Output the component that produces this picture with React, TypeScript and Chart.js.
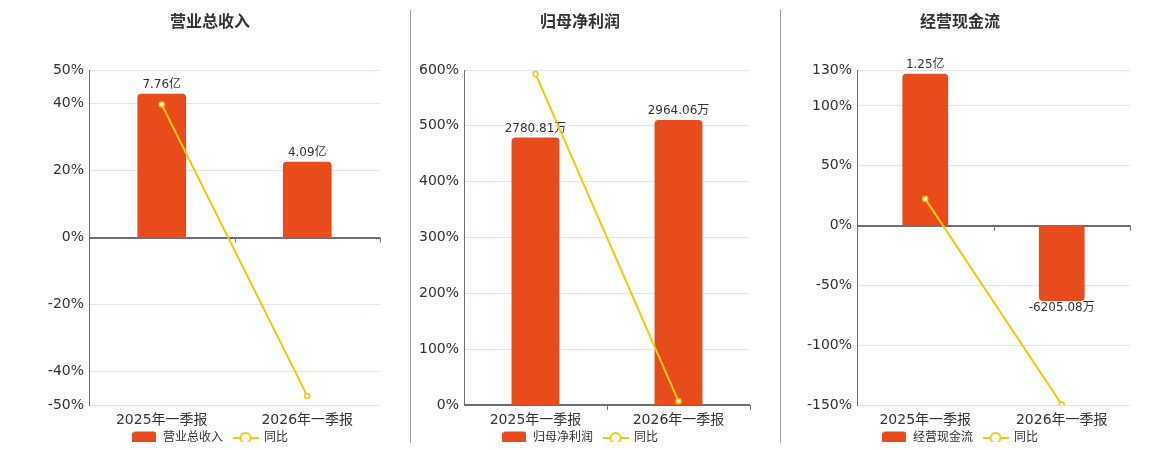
import React, { useEffect, useRef } from 'react';
import { Chart, registerables } from 'chart.js';

Chart.register(...registerables);

// ---------- data ----------
const categories = ['2025年一季报', '2026年一季报'];
const yoyLabel = '同比';

const revenueTitle = '营业总收入';
const revenueValues = [77600, 40900]; // 万元
const revenueYoy = [39.7, -47.29]; // %
const revenueTicks = [-50, -40, -20, 0, 20, 40, 50];
const revenueBarRange = [-90400, 90400];

const profitTitle = '归母净利润';
const profitValues = [2780.81, 2964.06]; // 万元
const profitYoy = [593, 6.59]; // %
const profitTicks = [0, 100, 200, 300, 400, 500, 600];
const profitBarRange = [0, 3483];

const cashTitle = '经营现金流';
const cashValues = [12500, -6205.08]; // 万元
const cashYoy = [22.3, -149.6]; // %
const cashTicks = [-150, -100, -50, 0, 50, 100, 130];
const cashBarRange = [-14775, 12805];

// ---------- styles ----------
const BAR = '#E84C1D';
const LINE = '#F4C80F';
const GRID = '#E0E6F1';
const AXIS = '#6E7079';
const TEXT = '#333333';
const FONT = '"DejaVu Sans", "Noto Sans CJK SC", sans-serif';

const fmtAmount = (v: number) =>
  Math.abs(v) >= 10000 ? (v / 10000).toFixed(2) + '亿' : v.toFixed(2) + '万';

function barIcon() {
  const c = document.createElement('canvas');
  c.width = 24;
  c.height = 14;
  const g = c.getContext('2d')!;
  g.fillStyle = BAR;
  g.beginPath();
  (g as any).roundRect(0, 0.5, 24, 13, 3);
  g.fill();
  return c;
}

function lineIcon() {
  const c = document.createElement('canvas');
  c.width = 26;
  c.height = 14;
  const g = c.getContext('2d')!;
  g.strokeStyle = LINE;
  g.lineWidth = 2;
  g.beginPath();
  g.moveTo(0, 7);
  g.lineTo(26, 7);
  g.stroke();
  g.beginPath();
  g.arc(13, 7, 5, 0, Math.PI * 2);
  g.fillStyle = '#fff';
  g.fill();
  g.stroke();
  return c;
}

const barLabelPlugin = {
  id: 'barLabels',
  afterDatasetDraw(chart: any, args: any) {
    if (args.index !== 0) return;
    const meta = chart.getDatasetMeta(0);
    const data = chart.data.datasets[0].data as number[];
    const ctx = chart.ctx;
    ctx.save();
    ctx.font = '12px ' + FONT;
    ctx.fillStyle = TEXT;
    ctx.textAlign = 'center';
    ctx.textBaseline = 'alphabetic';
    meta.data.forEach((el: any, i: number) => {
      const v = data[i];
      const text = fmtAmount(v);
      if (v >= 0) ctx.fillText(text, el.x, el.y - 6);
      else ctx.fillText(text, el.x, el.y + 10);
    });
    ctx.restore();
  },
};

const zeroTickPlugin = {
  id: 'zeroTicks',
  beforeDatasetsDraw(chart: any) {
    const x = chart.scales.x;
    const y = chart.scales.y;
    const y0 = y.getPixelForValue(0);
    const n = chart.data.labels.length;
    const half = (x.getPixelForValue(1) - x.getPixelForValue(0)) / 2;
    const ctx = chart.ctx;
    ctx.save();
    ctx.strokeStyle = AXIS;
    ctx.lineWidth = 1;
    for (let i = 1; i <= n; i++) {
      const px = Math.round(x.getPixelForValue(i - 1) + half) + 0.5;
      ctx.beginPath();
      ctx.moveTo(px, y0);
      ctx.lineTo(px, y0 + 5);
      ctx.stroke();
    }
    ctx.restore();
  },
};

type PanelProps = {
  title: string;
  values: number[];
  yoy: number[];
  ticks: number[];
  barRange: number[];
  axisWidth: number;
  left: number;
};

function Panel({ title, values, yoy, ticks, barRange, axisWidth, left }: PanelProps) {
  const ref = useRef<HTMLCanvasElement>(null);
  useEffect(() => {
    const bIcon = barIcon();
    const lIcon = lineIcon();
    const chart = new Chart(ref.current!, {
      type: 'bar',
      data: {
        labels: categories,
        datasets: [
          {
            type: 'bar',
            label: title,
            data: values,
            yAxisID: 'y1',
            backgroundColor: BAR,
            borderRadius: 4,
            borderSkipped: 'start',
            categoryPercentage: 1,
            barPercentage: 0.335,
            order: 1,
          } as any,
          {
            type: 'line',
            label: yoyLabel,
            data: yoy,
            yAxisID: 'y',
            borderColor: LINE,
            borderWidth: 2,
            pointRadius: 2.5,
            pointBorderWidth: 1.5,
            pointBackgroundColor: '#fff',
            pointBorderColor: LINE,
            tension: 0,
            order: 0,
          } as any,
        ],
      },
      options: {
        responsive: false,
        animation: false,
        layout: { padding: { left: 20, right: 20, top: 0, bottom: 8 } },
        plugins: {
          tooltip: { enabled: false },
          title: {
            display: true,
            text: title,
            color: TEXT,
            font: { family: FONT, size: 16, weight: 'bold' },
            padding: { top: 13, bottom: 37.8 },
          },
          legend: {
            display: true,
            position: 'bottom',
            maxHeight: 20,
            labels: {
              usePointStyle: true,
              pointStyleWidth: 25,
              padding: 10,
              color: TEXT,
              font: { family: FONT, size: 12 },
              generateLabels: () => [
                {
                  text: title,
                  pointStyle: bIcon,
                  fillStyle: BAR,
                  strokeStyle: BAR,
                  lineWidth: 0,
                  hidden: false,
                  datasetIndex: 0,
                  fontColor: TEXT,
                } as any,
                {
                  text: yoyLabel,
                  pointStyle: lIcon,
                  fillStyle: '#fff',
                  strokeStyle: LINE,
                  lineWidth: 0,
                  hidden: false,
                  datasetIndex: 1,
                  fontColor: TEXT,
                } as any,
              ],
            },
          },
        },
        scales: {
          x: {
            type: 'category',
            offset: true,
            grid: { display: false, drawTicks: false },
            border: { display: false },
            afterFit: (scale: any) => {
              scale.height = 17;
            },
            ticks: {
              color: TEXT,
              padding: -16,
              mirror: true,
              maxRotation: 0,
              autoSkip: false,
              font: { family: FONT, size: 14, lineHeight: '2px' } as any,
            },
          },
          y: {
            type: 'linear',
            position: 'left',
            min: ticks[0],
            max: ticks[ticks.length - 1],
            afterBuildTicks: (scale: any) => {
              scale.ticks = ticks.map((v) => ({ value: v }));
            },
            afterFit: (scale: any) => {
              scale.width = axisWidth;
            },
            grid: {
              drawTicks: false,
              color: (c: any) => (c.tick && c.tick.value === 0 ? AXIS : GRID),
              lineWidth: (c: any) => (c.tick && c.tick.value === 0 ? 2 : 1),
            },
            border: { display: true, color: AXIS, width: 1 },
            ticks: {
              color: TEXT,
              padding: 5,
              font: { family: FONT, size: 14 },
              callback: (v: any) => v + '%',
            },
          },
          y1: {
            type: 'linear',
            display: false,
            min: barRange[0],
            max: barRange[1],
          },
        },
      },
      plugins: [barLabelPlugin, zeroTickPlugin],
    } as any);
    return () => chart.destroy();
  }, []);
  return (
    <canvas
      ref={ref}
      width={380}
      height={450}
      style={{ position: 'absolute', left, top: 0, width: 380, height: 450 }}
    />
  );
}

export default function App() {
  return (
    <div
      style={{
        position: 'absolute',
        left: 0,
        top: 0,
        width: 1160,
        height: 450,
        overflow: 'hidden',
        background: '#fff',
      }}
    >
      <Panel
        title={revenueTitle}
        values={revenueValues}
        yoy={revenueYoy}
        ticks={revenueTicks}
        barRange={revenueBarRange}
        axisWidth={49}
        left={20}
      />
      <Panel
        title={profitTitle}
        values={profitValues}
        yoy={profitYoy}
        ticks={profitTicks}
        barRange={profitBarRange}
        axisWidth={54}
        left={390}
      />
      <Panel
        title={cashTitle}
        values={cashValues}
        yoy={cashYoy}
        ticks={cashTicks}
        barRange={cashBarRange}
        axisWidth={67}
        left={770}
      />
      <div style={{ position: 'absolute', left: 410, top: 10, width: 1, height: 433, background: '#A0A0A0' }} />
      <div style={{ position: 'absolute', left: 780, top: 10, width: 1, height: 433, background: '#A0A0A0' }} />
    </div>
  );
}
